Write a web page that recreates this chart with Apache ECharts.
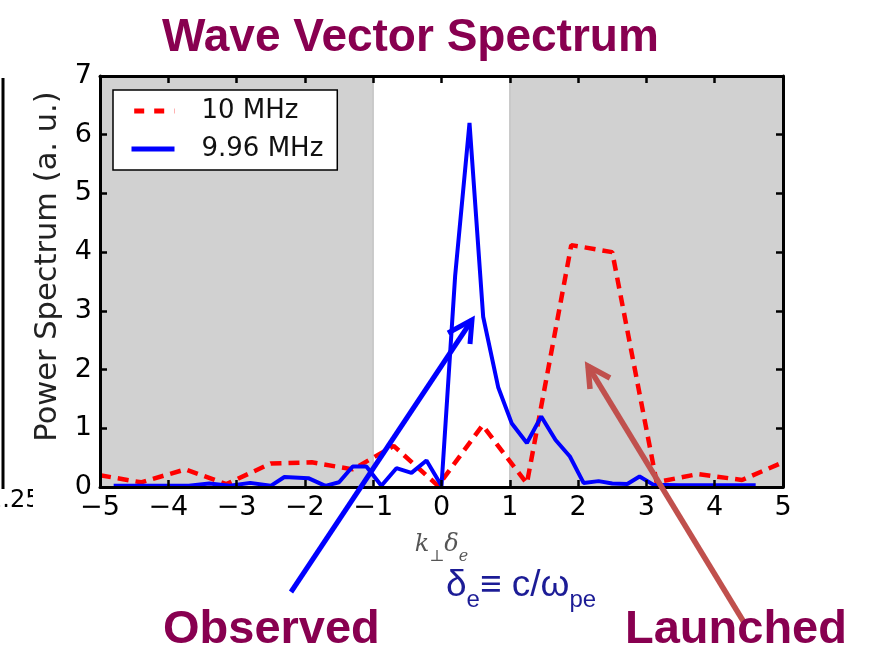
<!DOCTYPE html>
<html>
<head>
<meta charset="utf-8">
<script src="https://cdn.jsdelivr.net/npm/echarts@6/dist/echarts.min.js"></script>
<style>
html,body{margin:0;padding:0;background:#fff;}
#chart{width:875px;height:656px;}
</style>
</head>
<body>
<div id="chart"></div>
<script>
// ---- data ----
const titleText = 'Wave Vector Spectrum';
const seriesNames = ['10 MHz', '9.96 MHz'];
const kRed = [-5.0, -4.4, -3.75, -3.15, -2.5, -1.9, -1.3, -0.7, -0.05, 0.6, 1.25, 1.9, 2.5, 3.15, 3.75, 4.4, 5.0];
const pRed = [0.2, 0.08, 0.3, 0.05, 0.4, 0.42, 0.3, 0.7, 0.02, 1.05, 0.06, 4.12, 4.0, 0.08, 0.22, 0.12, 0.42];
const kBlue = [-4.8, -4.4, -4.0, -3.7, -3.4, -3.1, -2.8, -2.5, -2.3, -1.95, -1.7, -1.5, -1.3, -1.1, -0.88, -0.66, -0.44, -0.22, 0.0, 0.2, 0.41, 0.61, 0.83, 1.03, 1.25, 1.46, 1.67, 1.88, 2.08, 2.3, 2.5, 2.72, 2.9, 3.1, 3.5, 4.0, 4.6];
const pBlue = [0.02, 0.02, 0.02, 0.02, 0.06, 0.02, 0.07, 0.02, 0.17, 0.15, 0.02, 0.08, 0.35, 0.35, 0.02, 0.32, 0.24, 0.45, 0.02, 3.6, 6.2, 2.9, 1.7, 1.08, 0.75, 1.2, 0.8, 0.52, 0.07, 0.1, 0.06, 0.05, 0.18, 0.04, 0.03, 0.03, 0.03];
const shadedRanges = [[-5, -1], [1, 5]];
const xRange = [-5, 5];
const yRange = [0, 7];

const toPairs = (xs, ys) => xs.map((x, i) => [x, ys[i]]);
const minusFmt = v => (v < 0 ? '\u2212' + Math.abs(v) : String(v));

const chart = echarts.init(document.getElementById('chart'), null, {renderer: 'canvas'});
const tickFont = {fontFamily: 'DejaVu Sans', fontSize: 27, color: '#000'};
const frameAxis = {
  z: 10,
  axisLine: {show: true, onZero: false, lineStyle: {color: '#000', width: 3}},
  axisTick: {show: true, inside: true, length: 7, lineStyle: {color: '#000', width: 2.5}},
  splitLine: {show: false}
};

const option = {
  animation: false,
  backgroundColor: '#fff',
  title: {
    text: titleText, left: 157, top: 10,
    textStyle: {fontFamily: 'Liberation Sans', fontWeight: 'bold', fontSize: 46, color: '#880050'}
  },
  grid: {left: 100, right: 92, top: 76, bottom: 169, show: false},
  legend: {
    data: [
      {name: seriesNames[0], lineStyle: {type: [10, 10], dashOffset: -2.7, width: 5}},
      {name: seriesNames[1], lineStyle: {width: 5}}
    ],
    orient: 'vertical', left: 113, top: 90, z: 12,
    itemStyle: {opacity: 0},
    backgroundColor: '#fff', borderColor: '#000', borderWidth: 1.5, borderRadius: 0,
    padding: [8, 14, 8, 16], itemWidth: 43, itemHeight: 16, itemGap: 12,
    textStyle: {fontFamily: 'DejaVu Sans', fontSize: 26, color: '#111', padding: [0, 0, 0, 22]}
  },
  xAxis: [Object.assign({
    type: 'value', min: xRange[0], max: xRange[1], interval: 1,
    axisLabel: Object.assign({margin: 7, formatter: minusFmt}, tickFont),
    name: '{k|k}{s|\u22a5}{k|\u03b4}{s|e}', nameLocation: 'middle', nameGap: 40,
    nameTextStyle: {
      rich: {
        k: {fontFamily: 'DejaVu Serif', fontStyle: 'italic', fontSize: 24, color: '#555', lineHeight: 30, verticalAlign: 'bottom'},
        s: {fontFamily: 'DejaVu Serif', fontStyle: 'italic', fontSize: 16, color: '#555', lineHeight: 30, verticalAlign: 'bottom', padding: [0, 0, -8, 0]}
      }
    }
  }, frameAxis), Object.assign({
    type: 'value', position: 'top', min: xRange[0], max: xRange[1], interval: 1,
    axisLabel: {show: false}
  }, frameAxis)],
  yAxis: [Object.assign({
    type: 'value', min: yRange[0], max: yRange[1], interval: 1,
    axisLabel: Object.assign({margin: 8}, tickFont),
    name: 'Power Spectrum (a. u.)', nameLocation: 'middle', nameGap: 28, nameRotate: 90,
    nameTextStyle: {fontFamily: 'DejaVu Sans', fontSize: 30.5, color: '#222', padding: [0, 0, 0, 30]}
  }, frameAxis), Object.assign({
    type: 'value', position: 'right', min: yRange[0], max: yRange[1], interval: 1,
    axisLabel: {show: false}
  }, frameAxis)],
  series: [{
    name: 'shade', type: 'line', data: [], z: 1, silent: true,
    markArea: {
      silent: true,
      itemStyle: {color: '#d1d1d1', borderColor: '#b8b8b8', borderWidth: 1},
      data: shadedRanges.map(r => [{xAxis: r[0]}, {xAxis: r[1]}])
    }
  }, {
    name: seriesNames[0], type: 'line', data: toPairs(kRed, pRed), z: 3,
    symbol: 'none', itemStyle: {color: '#ff0000'},
    lineStyle: {color: '#ff0000', width: 4.5, type: [11, 7]}
  }, {
    name: seriesNames[1], type: 'line', data: toPairs(kBlue, pBlue), z: 4,
    symbol: 'none', itemStyle: {color: '#0000ff'},
    lineStyle: {color: '#0000ff', width: 4}
  }],
  graphic: [
    // fragment of neighbouring panel on the far left
    {type: 'line', shape: {x1: 3, y1: 78, x2: 3, y2: 489}, style: {stroke: '#000', lineWidth: 3}, z: 10},
    {type: 'text', left: -13, top: 489, style: {text: '1.25', font: '24px "DejaVu Sans"', fill: '#000'}, z: 10},
    {type: 'rect', shape: {x: 33, y: 486, width: 40, height: 32}, style: {fill: '#fff'}, z: 11},
    // observed arrow
    {type: 'polyline', shape: {points: [[291, 592], [472, 320]]}, style: {stroke: '#0000ff', lineWidth: 5}, z: 20},
    {type: 'polyline', shape: {points: [[448, 333], [472, 320], [470, 344]]}, style: {stroke: '#0000ff', lineWidth: 5, fill: null}, z: 20},
    // launched arrow
    {type: 'polyline', shape: {points: [[745, 624], [588, 366]]}, style: {stroke: '#c0504d', lineWidth: 5.5}, z: 20},
    {type: 'polyline', shape: {points: [[590, 389], [588, 366], [610, 378]]}, style: {stroke: '#c0504d', lineWidth: 5.5, fill: null}, z: 20},
    // labels
    {type: 'text', left: 163, top: 607, style: {text: 'Observed', font: 'bold 47px "Liberation Sans"', fill: '#880050'}, z: 20},
    {type: 'text', left: 625, top: 607, style: {text: 'Launched', font: 'bold 47px "Liberation Sans"', fill: '#880050'}, z: 20},
    {type: 'text', left: 446, top: 567, z: 20, style: {
      text: '{a|\u03b4}{b|e}{a|\u2261 c/\u03c9}{b|pe}',
      rich: {
        a: {font: '37px "Liberation Sans"', fill: '#1c1c96', lineHeight: 42, verticalAlign: 'bottom'},
        b: {font: '24px "Liberation Sans"', fill: '#1c1c96', lineHeight: 42, verticalAlign: 'bottom', padding: [0, 0, -8, 0]}
      }
    }}
  ]
};
chart.setOption(option);
</script>
</body>
</html>
